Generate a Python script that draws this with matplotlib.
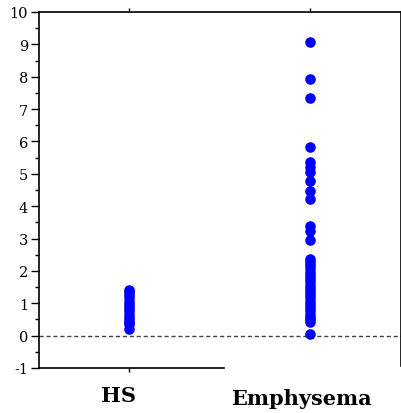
import matplotlib.pyplot as plt
from matplotlib.transforms import blended_transform_factory

plt.rcParams["axes.unicode_minus"] = False

groups = ["HS", "Emphysema"]
hs_values = [1.4, 1.35, 1.25, 1.15, 1.05, 0.95, 0.85, 0.75, 0.65, 0.55, 0.45, 0.4, 0.35, 0.2]
emph_values = [9.06, 7.94, 7.33, 5.84, 5.36, 5.22, 5.05, 4.79, 4.48, 4.23,
               3.38, 3.22, 2.97,
               2.36, 2.28, 2.18, 2.08, 1.98, 1.88, 1.78, 1.68, 1.58, 1.48,
               1.38, 1.28, 1.18, 1.08, 0.98, 0.88, 0.78, 0.68, 0.58, 0.5, 0.42, 0.05]
yticks = list(range(-1, 11))

fig = plt.figure(figsize=(4.02, 4.14), dpi=100)
ax = fig.add_axes([39 / 402, 1 - 369 / 414, 362 / 402, 356 / 414])

for i, vals in enumerate([hs_values, emph_values]):
    ax.scatter([i + 1] * len(vals), vals, s=58, color="#0000ff", zorder=3, linewidths=0)

ax.axhline(0, color="#444444", lw=1, ls=(0, (3, 2)), zorder=1)

ax.set_xlim(0.5, 2.5)
ax.set_ylim(-1, 10)
ax.set_yticks(yticks)
ax.set_yticks([v + 0.5 for v in yticks[:-1]], minor=True)
ax.tick_params(axis="y", which="major", length=6, width=1, direction="out", labelsize=10.5, pad=2)
ax.tick_params(axis="y", which="minor", length=3, width=1, direction="out")
for lab in ax.get_yticklabels():
    lab.set_fontfamily("DejaVu Serif")

ax.set_xticks([1, 2])
ax.set_xticklabels([])
ax.tick_params(axis="x", top=True, bottom=True, length=3, width=1, direction="out")
ax.xaxis.get_major_ticks()[1].tick1line.set_visible(False)

ax.spines["bottom"].set_bounds(0.5, 1.52)
ax.spines["right"].set_bounds(-0.95, 10)
for sp in ax.spines.values():
    sp.set_linewidth(1.2)

trans = blended_transform_factory(ax.transData, ax.transAxes)
ax.text(0.94, -0.047, groups[0], transform=trans, ha="center", va="top",
        fontsize=15, fontweight="bold", family="DejaVu Serif")
ax.text(1.95, -0.057, groups[1], transform=trans, ha="center", va="top",
        fontsize=15, fontweight="bold", family="DejaVu Serif")

fig.savefig("out.png", dpi=100)
